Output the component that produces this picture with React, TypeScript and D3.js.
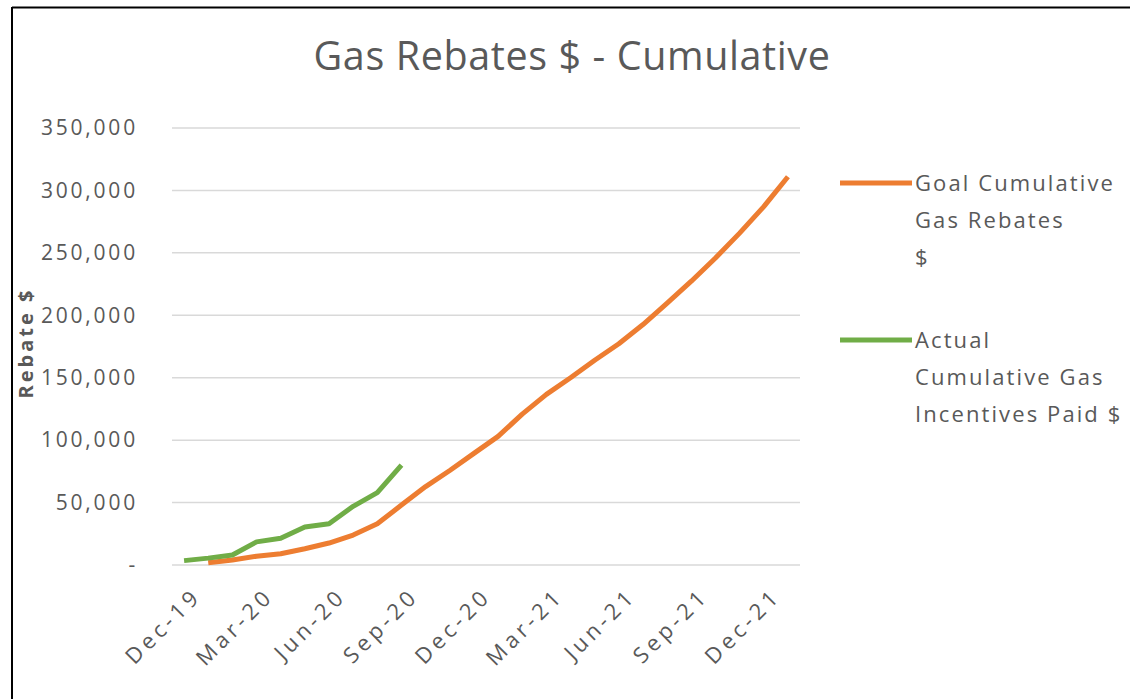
import React from "react";
import * as d3 from "d3";

const months = [
  "Dec-19","Jan-20","Feb-20","Mar-20","Apr-20","May-20","Jun-20","Jul-20","Aug-20","Sep-20","Oct-20","Nov-20",
  "Dec-20","Jan-21","Feb-21","Mar-21","Apr-21","May-21","Jun-21","Jul-21","Aug-21","Sep-21","Oct-21","Nov-21",
  "Dec-21","Jan-22",
];
const tickLabels = ["Dec-19","Mar-20","Jun-20","Sep-20","Dec-20","Mar-21","Jun-21","Sep-21","Dec-21"];
const yTicks = [0, 50000, 100000, 150000, 200000, 250000, 300000, 350000];

const goalMonths = months.slice(1);
const goalValues = [
  1800, 4000, 7000, 9000, 13000, 17600, 24000, 33000, 48000, 62800, 75700, 89400,
  103000, 120800, 136700, 150000, 164000, 177200, 192600, 209800, 227300, 245900, 265800, 287000, 311000,
];
const actualMonths = months.slice(0, 10);
const actualValues = [3500, 5500, 8000, 18500, 21500, 30500, 33000, 47000, 58000, 80000];

const seriesNames = [
  ["Goal Cumulative", "Gas Rebates", "$"],
  ["Actual", "Cumulative Gas", "Incentives Paid $"],
];
const colors = ["#ED7D31", "#70AD47"];

const W = 1130, H = 699;
const plotL = 172, plotR = 800, plotT = 128, plotB = 565;
const FONT = "'Open Sans', sans-serif";
const TXT = "#595959";

export default function App() {
  const x = d3.scaleBand<string>().domain(months).range([plotL, plotR]);
  const cx = (m: string) => (x(m) as number) + x.bandwidth() / 2;
  const y = d3.scaleLinear().domain([0, 350000]).range([plotB, plotT]);
  const line = d3.line<[string, number]>().x(d => cx(d[0])).y(d => y(d[1]));
  const goal = goalMonths.map((m, i) => [m, goalValues[i]] as [string, number]);
  const actual = actualMonths.map((m, i) => [m, actualValues[i]] as [string, number]);
  const fmt = (v: number) => (v === 0 ? "-" : d3.format(",")(v));

  return (
    <svg width={W} height={H} style={{ position: "absolute", left: 0, top: 0, background: "#fff" }} fontFamily={FONT}>
      <rect x={0} y={0} width={W} height={H} fill="#fff" />
      <line x1={12} y1={7.5} x2={W} y2={7.5} stroke="#000" strokeWidth={2} />
      <line x1={12} y1={7} x2={12} y2={H} stroke="#000" strokeWidth={2} />
      <text x={572} y={70} textAnchor="middle" fontSize={39.5} fill={TXT} letterSpacing={0.6}>
        Gas Rebates $ - Cumulative
      </text>
      {yTicks.map(t => (
        <g key={t}>
          <line x1={plotL} x2={plotR} y1={y(t)} y2={y(t)} stroke="#d9d9d9" strokeWidth={1.5} />
          <text x={138} y={y(t)} dy="0.35em" textAnchor="end" fontSize={21} fill={TXT} letterSpacing={2.8}>
            {fmt(t)}
          </text>
        </g>
      ))}
      <text transform="translate(33,343) rotate(-90)" textAnchor="middle" fontSize={20} fontWeight="bold" fill={TXT} letterSpacing={3}>
        Rebate $
      </text>
      {tickLabels.map(m => (
        <text key={m} transform={`translate(${cx(m) + 13},${592}) rotate(-45)`} textAnchor="end" dy="0.35em" fontSize={22} fill={TXT} letterSpacing={4.2}>
          {m}
        </text>
      ))}
      <path d={line(goal) as string} fill="none" stroke={colors[0]} strokeWidth={5} strokeLinejoin="round" />
      <path d={line(actual) as string} fill="none" stroke={colors[1]} strokeWidth={5} strokeLinejoin="round" />
      {seriesNames.map((lines, i) => {
        const y0 = i === 0 ? 183 : 340;
        return (
          <g key={i}>
            <line x1={840} x2={912} y1={y0} y2={y0} stroke={colors[i]} strokeWidth={5} />
            {lines.map((s, j) => (
              <text key={j} x={915} y={y0 + j * 37} dy="0.35em" fontSize={22} fill={TXT} letterSpacing={2.1}>
                {s}
              </text>
            ))}
          </g>
        );
      })}
    </svg>
  );
}
